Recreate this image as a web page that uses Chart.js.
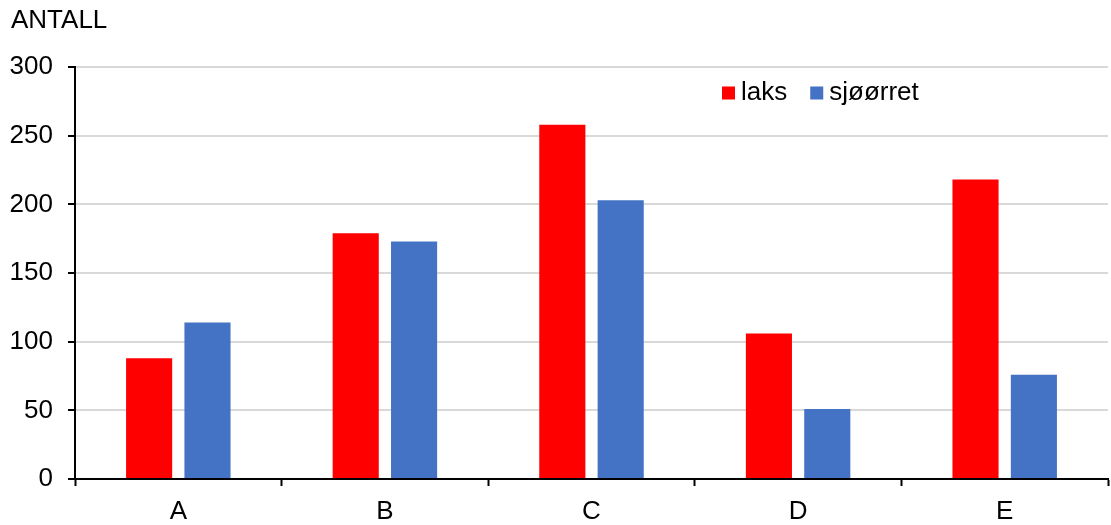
<!DOCTYPE html>
<html>
<head>
<meta charset="utf-8">
<script src="https://cdn.jsdelivr.net/npm/chart.js@4.4.1/dist/chart.umd.min.js"></script>
<style>
  html, body { margin: 0; padding: 0; background: #fff; }
  #wrap { width: 1111px; height: 525px; position: relative; }
</style>
</head>
<body>
<div id="wrap"><canvas id="c" width="1111" height="525"></canvas></div>
<script>
const categories = ['A', 'B', 'C', 'D', 'E'];
const laks = [88, 179, 258, 106, 218];
const sjoorret = [114, 173, 203, 51, 76];
const seriesNames = ['laks', 'sjøørret'];
const yTicks = [0, 50, 100, 150, 200, 250, 300];
const yTitle = 'ANTALL';

const FONT = "'Liberation Sans', Arial, sans-serif";
const FS = 26;

const overlay = {
  id: 'overlay',
  afterDraw(chart) {
    const ctx = chart.ctx;
    ctx.save();
    ctx.fillStyle = '#000';
    ctx.font = FS + 'px ' + FONT;
    ctx.textBaseline = 'middle';
    ctx.textAlign = 'left';
    ctx.fillText(yTitle, 11, 21);
    // legend
    let x = 722;
    const y = 93;
    chart.data.datasets.forEach((ds) => {
      ctx.fillStyle = ds.backgroundColor;
      ctx.fillRect(x, y - 6.5, 13, 13);
      ctx.fillStyle = '#000';
      ctx.fillText(ds.label, x + 19, y);
      x += 19 + ctx.measureText(ds.label).width + 23;
    });
    ctx.restore();
  }
};

new Chart(document.getElementById('c'), {
  type: 'bar',
  data: {
    labels: categories,
    datasets: [
      { label: seriesNames[0], data: laks, backgroundColor: '#FF0000' },
      { label: seriesNames[1], data: sjoorret, backgroundColor: '#4472C4' }
    ]
  },
  options: {
    responsive: false,
    animation: false,
    devicePixelRatio: 1,
    layout: { padding: { top: 67, right: 3, left: 0, bottom: 0 } },
    datasets: { bar: { categoryPercentage: 0.565, barPercentage: 0.79 } },
    plugins: { legend: { display: false }, tooltip: { enabled: false } },
    scales: {
      x: {
        afterFit: (s) => { s.height = 46; },
        grid: { offset: true, drawOnChartArea: false, tickColor: '#000', tickLength: 7, tickWidth: 2 },
        border: { color: '#000', width: 2 },
        ticks: { color: '#000', font: { family: FONT, size: FS }, padding: 10 }
      },
      y: {
        min: 0, max: 300,
        afterFit: (s) => { s.width = 75; },
        afterBuildTicks: (s) => { s.ticks = yTicks.map(v => ({ value: v })); },
        grid: { color: '#d9d9d9', lineWidth: 2, tickColor: '#000', tickLength: 7, tickWidth: 2 },
        border: { color: '#000', width: 2 },
        ticks: { color: '#000', font: { family: FONT, size: FS }, padding: 15 }
      }
    }
  },
  plugins: [overlay]
});
</script>
</body>
</html>
